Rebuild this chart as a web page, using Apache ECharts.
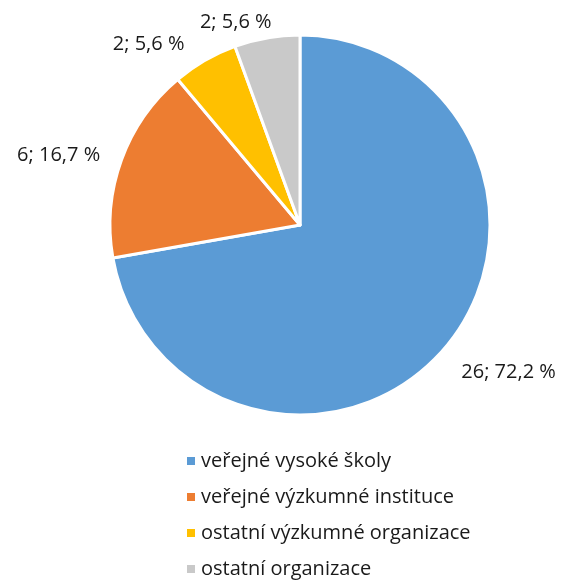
<!DOCTYPE html>
<html lang="cs">
<head>
    <meta charset="UTF-8">
    <title>Koláčový graf</title>
    <script src="https://cdn.jsdelivr.net/npm/echarts@6/dist/echarts.min.js"></script>
    <style>
        html, body { margin: 0; padding: 0; background: #fff; }
        #main { width: 564px; height: 580px; }
    </style>
</head>
<body>
<div id="main"></div>
<script type="text/javascript">
    // data z obrázku
    var categories = ['veřejné vysoké školy', 'veřejné výzkumné instituce', 'ostatní výzkumné organizace', 'ostatní organizace'];
    var values = [26, 6, 2, 2];
    var colors = ['#5B9BD5', '#ED7D31', '#FFC000', '#C9C9C9'];

    var total = values.reduce(function (a, b) { return a + b; }, 0);
    var myChart = echarts.init(document.getElementById('main'));

    var option = {
        textStyle: {fontFamily: 'Open Sans', color: '#1a1a1a'},
        color: colors,
        legend: {
            orient: 'vertical',
            left: 180,
            top: 446,
            height: 300,
            itemWidth: 10,
            itemHeight: 10,
            itemGap: 16,
            icon: 'rect',
            textStyle: {fontSize: 20, color: '#1a1a1a', fontFamily: 'Open Sans'},
            data: categories
        },
        series: [
            {
                type: 'pie',
                center: [300, 225],
                radius: 190,
                startAngle: 90,
                clockwise: true,
                itemStyle: {borderColor: '#fff', borderWidth: 3},
                label: {
                    show: true,
                    position: 'outside',
                    overflow: 'none',
                    edgeDistance: 0,
                    fontSize: 20,
                    color: '#1a1a1a',
                    fontFamily: 'Open Sans',
                    formatter: function (p) {
                        var pct = (p.value / total * 100).toFixed(1).replace('.', ',');
                        return p.value + '; ' + pct + ' %';
                    }
                },
                labelLine: {show: false, length: 14, length2: 0},
                emphasis: {disabled: true},
                animation: false,
                data: (function () {
                    var res = [];
                    for (var i = 0; i < categories.length; i++) {
                        res.push({name: categories[i], value: values[i]});
                    }
                    // drobné posuny popisků podle předlohy
                    res[0].label = {offset: [0, 16]};
                    res[1].label = {offset: [-8, 0]};
                    res[2].label = {offset: [-6, -8]};
                    res[3].label = {offset: [12, -2]};
                    return res;
                })()
            }
        ]
    };
    myChart.setOption(option);
</script>
</body>
</html>
